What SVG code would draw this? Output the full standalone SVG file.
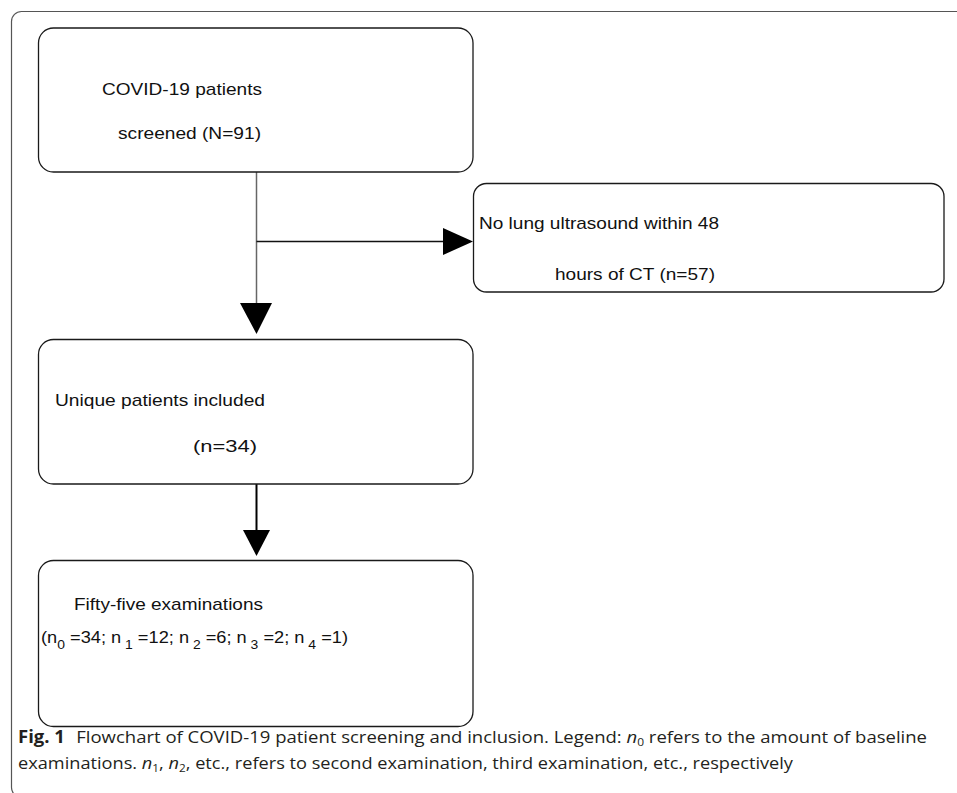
<svg xmlns="http://www.w3.org/2000/svg" width="957" height="793" viewBox="0 0 957 793">
<defs>
<style>
.box{fill:#fff;stroke:#1a1a1a;stroke-width:1.3}
.t{font-family:"Liberation Sans",Arial,sans-serif;font-size:17px;fill:#111}
.cap{font-family:"Open Sans","Noto Sans",sans-serif;font-size:17px;fill:#231f20}
</style>
</defs>
<rect x="11.5" y="11.5" width="980" height="786" rx="10" fill="none" stroke="#555" stroke-width="1.2"/>
<g id="connectors">
<line x1="256.5" y1="172" x2="256.5" y2="304" stroke="#666" stroke-width="1.5"/>
<line x1="256.5" y1="241.5" x2="444" y2="241.5" stroke="#111" stroke-width="1.3"/>
<polygon points="240,303 272,303 256.5,334" fill="#000"/>
<polygon points="443,228 443,255 473,241.5" fill="#000"/>
<line x1="256.5" y1="484" x2="256.5" y2="531" stroke="#000" stroke-width="2"/>
<polygon points="243,530 270,530 256.5,556" fill="#000"/>
</g>
<g id="node-screened">
<rect class="box" x="38.5" y="28" width="434.5" height="144" rx="15"/>
<text class="t" x="102" y="95" textLength="160" lengthAdjust="spacingAndGlyphs">COVID-19 patients</text>
<text class="t" x="118" y="139" textLength="143" lengthAdjust="spacingAndGlyphs">screened (N=91)</text>
</g>
<g id="node-excluded">
<rect class="box" x="473.5" y="183.5" width="470.5" height="108.5" rx="13"/>
<text class="t" x="479" y="229" textLength="240" lengthAdjust="spacingAndGlyphs">No lung ultrasound within 48</text>
<text class="t" x="555" y="280" textLength="160" lengthAdjust="spacingAndGlyphs">hours of CT (n=57)</text>
</g>
<g id="node-included">
<rect class="box" x="38.5" y="339.5" width="434.5" height="144.5" rx="15"/>
<text class="t" x="55" y="406" textLength="210" lengthAdjust="spacingAndGlyphs">Unique patients included</text>
<text class="t" x="193" y="452" textLength="64" lengthAdjust="spacingAndGlyphs">(n=34)</text>
</g>
<g id="node-examinations">
<rect class="box" x="38.5" y="560.5" width="434.5" height="166" rx="15"/>
<text class="t" x="74" y="610" textLength="189" lengthAdjust="spacingAndGlyphs">Fifty-five examinations</text>
<text class="t" x="41" y="643" textLength="307" lengthAdjust="spacingAndGlyphs">(n<tspan dy="6" font-size="13">0</tspan><tspan dy="-6"> =34; n</tspan><tspan dy="6" font-size="13"> 1</tspan><tspan dy="-6"> =12; n</tspan><tspan dy="6" font-size="13"> 2</tspan><tspan dy="-6"> =6; n</tspan><tspan dy="6" font-size="13"> 3</tspan><tspan dy="-6"> =2; n</tspan><tspan dy="6" font-size="13"> 4</tspan><tspan dy="-6"> =1)</tspan></text>
</g>
<g id="caption">
<text class="cap" x="18" y="743" textLength="909" lengthAdjust="spacingAndGlyphs"><tspan font-weight="bold">Fig. 1</tspan><tspan dx="6"> Flowchart of COVID-19 patient screening and inclusion. Legend: </tspan><tspan font-style="italic">n</tspan><tspan dy="3" font-size="11">0</tspan><tspan dy="-3"> refers to the amount of baseline</tspan></text>
<text class="cap" x="18" y="769" textLength="775" lengthAdjust="spacingAndGlyphs">examinations. <tspan font-style="italic">n</tspan><tspan dy="3" font-size="11">1</tspan><tspan dy="-3">, </tspan><tspan font-style="italic">n</tspan><tspan dy="3" font-size="11">2</tspan><tspan dy="-3">, etc., refers to second examination, third examination, etc., respectively</tspan></text>
</g>
</svg>
